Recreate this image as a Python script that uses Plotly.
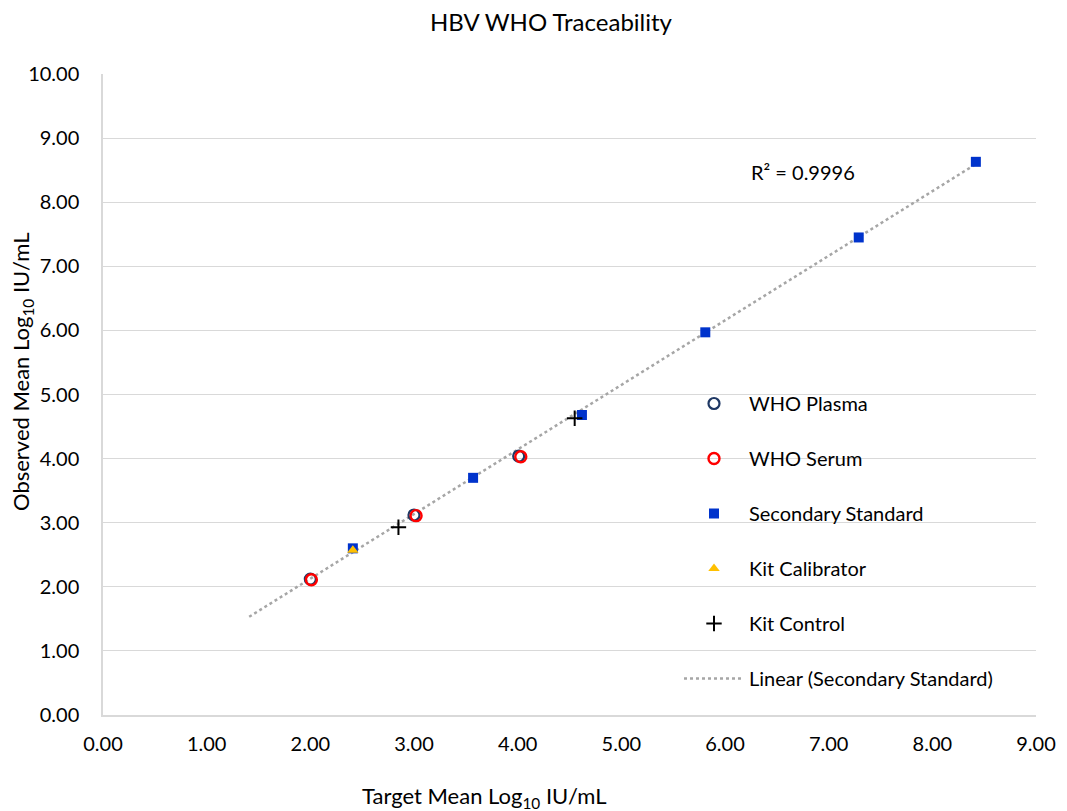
import numpy as np
import plotly.graph_objects as go

# ---- data ----
plasma_x = [2.00, 3.00, 4.01]
plasma_y = [2.12, 3.12, 4.04]

serum_x = [2.01, 3.02, 4.03]
serum_y = [2.11, 3.11, 4.03]

secondary_x = [2.41, 3.57, 4.62, 5.81, 7.29, 8.42]
secondary_y = [2.60, 3.70, 4.68, 5.97, 7.45, 8.63]

calibrator_x = [2.41]
calibrator_y = [2.57]

control_x = [2.85, 4.55]
control_y = [2.93, 4.63]

r2_label = "R² = 0.9996"
x_ticks = [0, 1, 2, 3, 4, 5, 6, 7, 8, 9]
y_ticks = [0, 1, 2, 3, 4, 5, 6, 7, 8, 9, 10]

# ---- linear trend of secondary standard (forecast backward 1 unit) ----
slope, intercept = np.polyfit(secondary_x, secondary_y, 1)
trend_x = np.array([min(secondary_x) - 1.0, max(secondary_x)])
trend_y = slope * trend_x + intercept

FONT = "Lato"
OFF = 8  # page body margin
W, H = 1067 - OFF, 811 - OFF
L, T = 103 - OFF, 74 - OFF
R = W - (1036 - OFF)
B = H - (715 - OFF)
pw, ph = W - L - R, H - T - B

def px_x(p):
    return (p - OFF - L) / pw

def px_y(p):
    return (H - B - (p - OFF)) / ph

fig = go.Figure()

fig.add_trace(go.Scatter(
    x=trend_x, y=trend_y, mode="lines", name="Linear (Secondary Standard)",
    line=dict(color="#a6a6a6", width=2.5, dash="dot"), legendgroup="g6",
    legendrank=6, hoverinfo="skip"))

fig.add_trace(go.Scatter(
    x=plasma_x, y=plasma_y, mode="markers", name="WHO Plasma", legendgroup="g1",
    legendrank=1,
    marker=dict(symbol="circle-open", size=11, color="#1f3864", line=dict(width=2.2))))

fig.add_trace(go.Scatter(
    x=serum_x, y=serum_y, mode="markers", name="WHO Serum", legendgroup="g2",
    legendrank=2,
    marker=dict(symbol="circle-open", size=11, color="#ff0000", line=dict(width=2.4))))

fig.add_trace(go.Scatter(
    x=secondary_x, y=secondary_y, mode="markers", name="Secondary Standard",
    legendgroup="g3", legendrank=3,
    marker=dict(symbol="square", size=10, color="#0033cc")))

fig.add_trace(go.Scatter(
    x=calibrator_x, y=calibrator_y, mode="markers", name="Kit Calibrator",
    legendgroup="g4", legendrank=4,
    marker=dict(symbol="triangle-up", size=10, color="#ffc000")))

fig.add_trace(go.Scatter(
    x=control_x, y=control_y, mode="markers", name="Kit Control",
    legendgroup="g5", legendrank=5,
    marker=dict(symbol="cross-thin", size=11, color="#000000",
                line=dict(width=2, color="#000000"))))

fig.update_layout(
    width=W, height=H,
    margin=dict(l=L, r=R, t=T, b=B, pad=0),
    paper_bgcolor="white", plot_bgcolor="white",
    font=dict(family=FONT, size=20, color="#000000"),
    showlegend=True,
    legend=dict(
        x=px_x(679), y=px_y(384), xanchor="left", yanchor="top",
        bgcolor="rgba(0,0,0,0)", font=dict(family=FONT, size=20, color="#000000"),
        traceorder="grouped", tracegroupgap=26, itemwidth=60,
    ),
    xaxis=dict(
        range=[0, 9], tickvals=x_ticks, tickformat=".2f",
        showgrid=False, zeroline=False,
        showline=True, linecolor="#d9d9d9", linewidth=1.5,
        ticks="", ticklabelstandoff=10,
        tickfont=dict(family=FONT, size=20, color="#000000"),
    ),
    yaxis=dict(
        range=[0, 10], tickvals=y_ticks, tickformat=".2f",
        showgrid=True, gridcolor="#d9d9d9", gridwidth=1.3,
        zeroline=False, showline=True, linecolor="#d9d9d9", linewidth=1.5,
        ticks="", ticklabelstandoff=18,
        tickfont=dict(family=FONT, size=20, color="#000000"),
    ),
    annotations=[
        dict(text="HBV WHO Traceability", x=px_x(551), y=px_y(21), xref="paper", yref="paper",
             xanchor="center", yanchor="middle", showarrow=False,
             font=dict(family=FONT, size=24, color="#000000")),
        dict(text="Target Mean Log<sub>10</sub> IU/mL", x=px_x(484), y=px_y(797),
             xref="paper", yref="paper", xanchor="center", yanchor="middle",
             showarrow=False, font=dict(family=FONT, size=22, color="#000000")),
        dict(text="Observed Mean Log<sub>10</sub> IU/mL", x=px_x(22), y=px_y(372),
             xref="paper", yref="paper", xanchor="center", yanchor="middle",
             textangle=-90, showarrow=False,
             font=dict(family=FONT, size=22, color="#000000")),
        dict(text=r2_label, x=px_x(749), y=px_y(172), xref="paper", yref="paper",
             xanchor="left", yanchor="middle", showarrow=False,
             font=dict(family=FONT, size=20, color="#000000")),
    ],
)

fig.write_html("out.html")
